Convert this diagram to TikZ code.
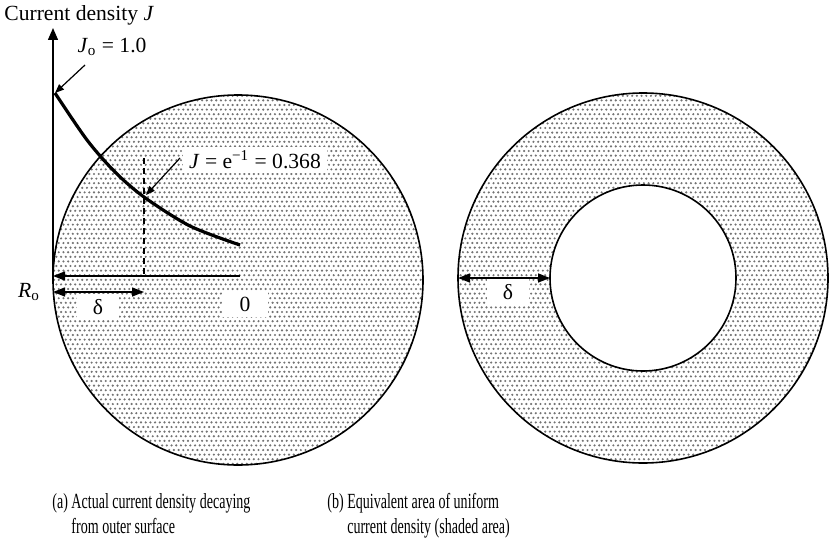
\documentclass[tikz,border=0pt]{standalone}
\usepackage{fontspec}
\setmainfont{Liberation Serif}
\usepackage{graphicx}
\usetikzlibrary{arrows.meta,patterns}

% staggered screen dots
\pgfdeclarepatternformonly{screendots}{\pgfqpoint{-1pt}{-1pt}}{\pgfqpoint{3pt}{5pt}}{\pgfqpoint{2.35pt}{4.6pt}}{%
  \pgfpathcircle{\pgfqpoint{0pt}{0pt}}{0.6pt}
  \pgfpathcircle{\pgfqpoint{1.175pt}{2.3pt}}{0.6pt}
  \pgfusepath{fill}}

\tikzset{
  ring/.style={draw=black,line width=0.8pt,pattern=screendots,pattern color=black!55},
  axisline/.style={line width=0.7pt,-{Triangle[length=6pt,width=5pt]}},
  pointer/.style={line width=0.6pt,-{Triangle[length=4.5pt,width=3.5pt]}},
  dimline/.style={line width=0.7pt,{Triangle[length=6pt,width=4.5pt]}-{Triangle[length=6pt,width=4.5pt]}},
  boxlabel/.style={fill=white,inner sep=0pt,minimum width=21pt,minimum height=13pt},
  caption/.style={anchor=base west,inner sep=0pt,font=\fontsize{10.8}{12.5}\selectfont}
}

\begin{document}
\begin{tikzpicture}[x=0.5pt,y=0.5pt,font=\fontsize{10.8}{12}\selectfont]
  \useasboundingbox (0,0) rectangle (829,542);

  % (a) conductor with decaying density
  \coordinate (lc) at (238,262);
  \draw[ring] (lc) circle[radius=185];

  \coordinate (Ro) at (53,266);
  \coordinate (ytop) at (53,514);
  \draw[axisline] (Ro) -- (ytop);
  \node[anchor=west,inner sep=0pt] (ylab) at (4,527) {Current density \textit{J}};

  \coordinate (Jo) at (55,449);
  \coordinate (Je) at (144,345);
  \coordinate (Jend) at (240,297);
  \draw[line width=1.6pt] plot[smooth] coordinates {(Jo) (87,402) (115,370) (Je) (190,316) (Jend)};

  \coordinate (dtop) at (144,384);
  \coordinate (dbot) at (144,266);
  \draw[line width=0.7pt,dash pattern=on 3pt off 2pt] (dtop) -- (dbot);

  \node (jolab) at (112,495) {\textit{J}\textsubscript{o} = 1.0};
  \coordinate (jotail) at (85,477);
  \draw[pointer] (jotail) -- (Jo);

  \node[fill=white,inner xsep=3pt,inner ysep=2pt] (jelab) at (255,382) {\textit{J} = e\textsuperscript{−1} = 0.368};
  \coordinate (jetail) at (180,384);
  \coordinate (jehead) at (146,347);
  \draw[pointer] (jetail) -- (jehead);

  \coordinate (zero) at (240,266);
  \draw[line width=0.7pt,-{Triangle[length=6pt,width=4.5pt]}] (zero) -- (Ro);

  \coordinate (da) at (53,250);
  \coordinate (db) at (144,250);
  \draw[dimline] (da) -- (db);

  \node (rolab) at (29,250) {\textit{R}\textsubscript{o}};
  \node[boxlabel] (dlabl) at (98,235) {δ};
  \node[boxlabel,minimum width=23pt] (zlab) at (245,238) {0};

  % (b) equivalent annulus
  \coordinate (rc) at (643,264);
  \draw[ring,even odd rule] (rc) circle[radius=185] (rc) circle[radius=93];

  \coordinate (ra) at (458,264);
  \coordinate (rb) at (550,264);
  \draw[dimline] (ra) -- (rb);
  \node[boxlabel] (dlabr) at (508,250) {δ};

  % captions
  \node[caption] (capa) at (52,34) {\scalebox{0.65}[1]{\begin{tabular}[t]{@{}l@{}}(a) Actual current density decaying\\\phantom{(a) }from outer surface\end{tabular}}};
  \node[caption] (capb) at (327,34) {\scalebox{0.65}[1]{\begin{tabular}[t]{@{}l@{}}(b) Equivalent area of uniform\\\phantom{(b) }current density (shaded area)\end{tabular}}};
\end{tikzpicture}
\end{document}
